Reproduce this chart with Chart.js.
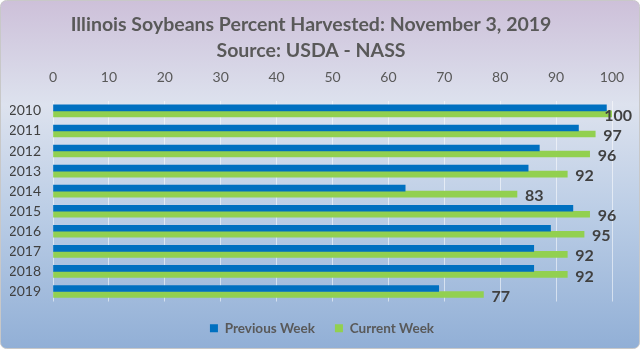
<!DOCTYPE html>
<html>
<head>
<meta charset="utf-8">
<script src="https://cdn.jsdelivr.net/npm/chart.js@4"></script>
<style>
  html, body { margin: 0; padding: 0; background: #ffffff; }
  #wrap { width: 640px; height: 349px; }
</style>
</head>
<body>
<div id="wrap"><canvas id="harvestChart" width="640" height="349"></canvas></div>
<script>
// Illinois soybeans harvest progress, % harvested
const years = ['2010', '2011', '2012', '2013', '2014', '2015', '2016', '2017', '2018', '2019'];
const previousWeek = [99, 94, 87, 85, 63, 93, 89, 86, 86, 69];
const currentWeek = [100, 97, 96, 92, 83, 96, 95, 92, 92, 77];
const xTicks = [0, 10, 20, 30, 40, 50, 60, 70, 80, 90, 100];

const FONT = 'Lato, "Open Sans", sans-serif';

// gradient panel with rounded border behind everything
const panelBackground = {
    id: 'panelBackground',
    beforeDraw(chart) {
        const ctx = chart.ctx;
        const w = chart.width, h = chart.height;
        const g = ctx.createLinearGradient(0, 0, 0, h);
        g.addColorStop(0, '#cdc0d9');
        g.addColorStop(0.3, '#dde2ee');
        g.addColorStop(0.6, '#bccee6');
        g.addColorStop(1, '#91afd6');
        ctx.save();
        ctx.beginPath();
        ctx.roundRect(0.5, 0.5, w - 1, h - 1, 6);
        ctx.fillStyle = g;
        ctx.fill();
        ctx.strokeStyle = '#c8c8c8';
        ctx.lineWidth = 1;
        ctx.stroke();
        ctx.restore();
    }
};

// nudge the legend so it sits centred under the plot rather than the canvas
const legendShift = {
    id: 'legendShift',
    afterLayout(chart) {
        if (chart.legend) {
            chart.legend.left += 11;
            chart.legend.right += 11;
        }
    }
};

// value labels to the right of the current week bars
const valueLabels = {
    id: 'valueLabels',
    afterDatasetsDraw(chart) {
        const ctx = chart.ctx;
        const meta = chart.getDatasetMeta(1);
        ctx.save();
        ctx.font = 'bold 16px ' + FONT;
        ctx.fillStyle = '#404040';
        ctx.textBaseline = 'middle';
        meta.data.forEach((bar, i) => {
            const text = String(currentWeek[i]);
            const tw = ctx.measureText(text).width;
            let x = bar.x + 8;
            if (x + tw > chart.width - 8) x = chart.width - 8 - tw;
            ctx.fillText(text, x, bar.y + 2);
        });
        ctx.restore();
    }
};

const ctx = document.getElementById('harvestChart').getContext('2d');

new Chart(ctx, {
    type: 'bar',
    data: {
        labels: years,
        datasets: [{
            label: 'Previous Week',
            data: previousWeek,
            backgroundColor: '#0070c0',
            borderWidth: 0,
            barThickness: 6
        }, {
            label: 'Current Week',
            data: currentWeek,
            backgroundColor: '#92d050',
            borderWidth: 0,
            barThickness: 6
        }]
    },
    options: {
        indexAxis: 'y',
        responsive: false,
        animation: false,
        layout: {
            padding: { left: 10, right: 28, top: 4, bottom: 4 }
        },
        plugins: {
            title: {
                display: true,
                text: ['Illinois Soybeans Percent Harvested: November 3, 2019', 'Source: USDA - NASS'],
                color: '#595959',
                font: { family: FONT, size: 19.5, weight: 'bold', lineHeight: 1.33 },
                padding: { top: 8, bottom: 2 }
            },
            legend: {
                position: 'bottom',
                labels: {
                    color: '#595959',
                    font: { family: FONT, size: 13.5, weight: 'bold' },
                    boxWidth: 8,
                    boxHeight: 8,
                    padding: 20
                }
            },
            tooltip: { enabled: false }
        },
        scales: {
            x: {
                position: 'top',
                min: 0,
                max: 100,
                afterBuildTicks: axis => {
                    axis.ticks = xTicks.map(v => ({ value: v }));
                },
                afterFit: axis => {
                    axis.height = 35;
                    axis.paddingLeft = 0;
                    axis.paddingRight = 0;
                },
                ticks: {
                    color: '#595959',
                    font: { family: FONT, size: 14 },
                    padding: 15,
                    minRotation: 0,
                    maxRotation: 0,
                    autoSkip: false
                },
                grid: {
                    color: 'rgba(255, 255, 255, 0.55)',
                    drawTicks: false
                },
                border: { display: false }
            },
            y: {
                afterFit: axis => {
                    axis.width = 43;
                    axis.paddingTop = 0;
                    axis.paddingBottom = 0;
                },
                ticks: {
                    color: '#404040',
                    font: { family: FONT, size: 14 },
                    padding: 12,
                    autoSkip: false
                },
                grid: { display: false, drawTicks: false },
                border: { display: false }
            }
        }
    },
    plugins: [panelBackground, legendShift, valueLabels]
});
</script>
</body>
</html>
